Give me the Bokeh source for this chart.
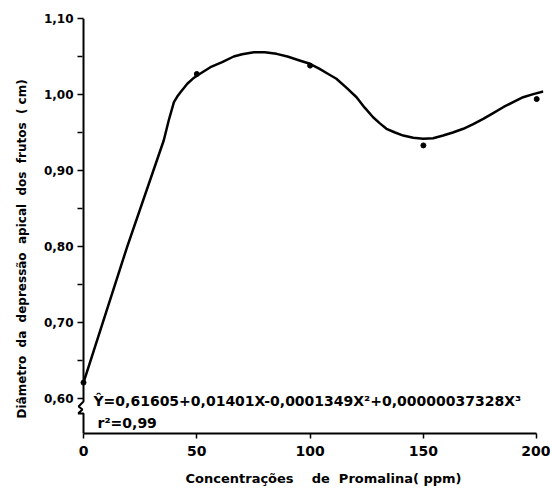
from bokeh.plotting import figure
from bokeh.models import FixedTicker, CustomJSTickFormatter, Label, Title
from bokeh.embed import file_html
from bokeh.resources import INLINE


conc = [0, 50, 100, 150, 200]
diam = [0.621, 1.027, 1.038, 0.933, 0.994]

#fitted curve
curve_x = [0, 19.3, 35.4, 37.6, 39.9, 41.3, 42.8, 45.8, 48.3, 50.9, 56, 61.2, 66.3, 70, 75.2, 80, 85.2,
           90, 95, 99.9, 104, 108, 111.6, 116, 120.5, 124, 127.8, 130.8, 133.7, 137.5, 141.1, 145.5,
           149.9, 154.3, 158.7, 163, 167.6, 172, 176.4, 180.8, 185.2, 189.6, 194, 198.5, 202.9]
curve_y = [0.621, 0.80, 0.9395, 0.9658, 0.990, 0.997, 1.003, 1.0141, 1.021, 1.0263, 1.0359, 1.0425, 1.05, 1.053, 1.0557, 1.0557, 1.0535,
           1.050, 1.045, 1.0404, 1.034, 1.027, 1.0207, 1.009, 0.9964, 0.983, 0.9701, 0.962, 0.9549, 0.950, 0.946, 0.943,
           0.9417, 0.9425, 0.946, 0.950, 0.9549, 0.961, 0.968, 0.9755, 0.9833, 0.990, 0.9964, 1.0005, 1.0039]

x_ticks = [0, 50, 100, 150, 200]
y_ticks = [0.60, 0.70, 0.80, 0.90, 1.00, 1.10]
y_minor = [0.65, 0.75, 0.85, 0.95, 1.05]

equation = "Ŷ=0,61605+0,01401X-0,0001349X²+0,00000037328X³"
r2_text = "r²=0,99"

font = "DejaVu Sans"
nb = "\u00a0"
x_title = "Concentrações" + nb * 4 + "de" + nb * 2 + "Promalina(" + nb + "ppm)"
y_title = (nb * 2).join(["Diâmetro", "da", "depressão", "apical", "dos", "frutos", "(" + nb + "cm)"])


p = figure(width=550, height=497, x_range=(-2.65, 203), y_range=(0.554, 1.10),
           output_backend="svg", toolbar_location=None,
           min_border_left=77, min_border_right=7, min_border_top=18, min_border_bottom=64)
p.background_fill_color = "white"
p.outline_line_color = None
p.grid.visible = False

#x axis
p.xaxis.ticker = FixedTicker(ticks=x_ticks, minor_ticks=[])
p.xaxis.bounds = (0, 200)
p.xaxis.axis_line_width = 2
p.xaxis.major_tick_out = 5
p.xaxis.major_tick_in = 0
p.xaxis.major_tick_line_width = 1.5
p.xaxis.major_label_standoff = 7
p.xaxis.major_label_text_font = font
p.xaxis.major_label_text_font_size = "14px"
p.xaxis.major_label_text_font_style = "bold"
p.xaxis.major_label_text_color = "black"

#y axis (line drawn by hand below, for the break)
p.yaxis.ticker = FixedTicker(ticks=y_ticks, minor_ticks=y_minor)
p.yaxis.formatter = CustomJSTickFormatter(code="return tick.toFixed(2).replace('.', ',')")
p.yaxis.axis_line_color = None
p.yaxis.major_tick_in = 6
p.yaxis.major_tick_out = 0
p.yaxis.minor_tick_in = 5
p.yaxis.minor_tick_out = 0
p.yaxis.major_tick_line_width = 1.5
p.yaxis.minor_tick_line_width = 1.5
p.yaxis.major_label_standoff = 4
p.yaxis.major_label_text_font = font
p.yaxis.major_label_text_font_size = "12px"
p.yaxis.major_label_text_font_style = "bold"
p.yaxis.major_label_text_color = "black"

#axis titles sit off-centre in the original, so they are side titles with an offset
p.add_layout(Title(text=x_title, align="left", offset=108, standoff=20,
                   text_font=font, text_font_size="13px", text_font_style="bold", text_color="black"), "below")
p.add_layout(Title(text=y_title, align="left", offset=15, standoff=23,
                   text_font=font, text_font_size="12px", text_font_style="bold", text_color="black"), "left")

#y axis line with the break near the bottom
p.line([0, 0, -2.2, -0.44, -2.43, 0, 0],
       [1.10, 0.5961, 0.5895, 0.5855, 0.5803, 0.5803, 0.554],
       line_color="black", line_width=2)

#curve and points
p.line(curve_x, curve_y, line_color="black", line_width=2.5, line_join="round")
p.scatter(conc, diam, size=5, color="black")

p.add_layout(Label(x=4.4, y=0.597, text=equation, text_baseline="middle",
                   text_font=font, text_font_size="14px", text_font_style="bold", text_color="black"))
p.add_layout(Label(x=6.2, y=0.568, text=r2_text, text_baseline="middle",
                   text_font=font, text_font_size="14px", text_font_style="bold", text_color="black"))

open("out.html", "w", encoding="utf-8").write(file_html(p, INLINE))
